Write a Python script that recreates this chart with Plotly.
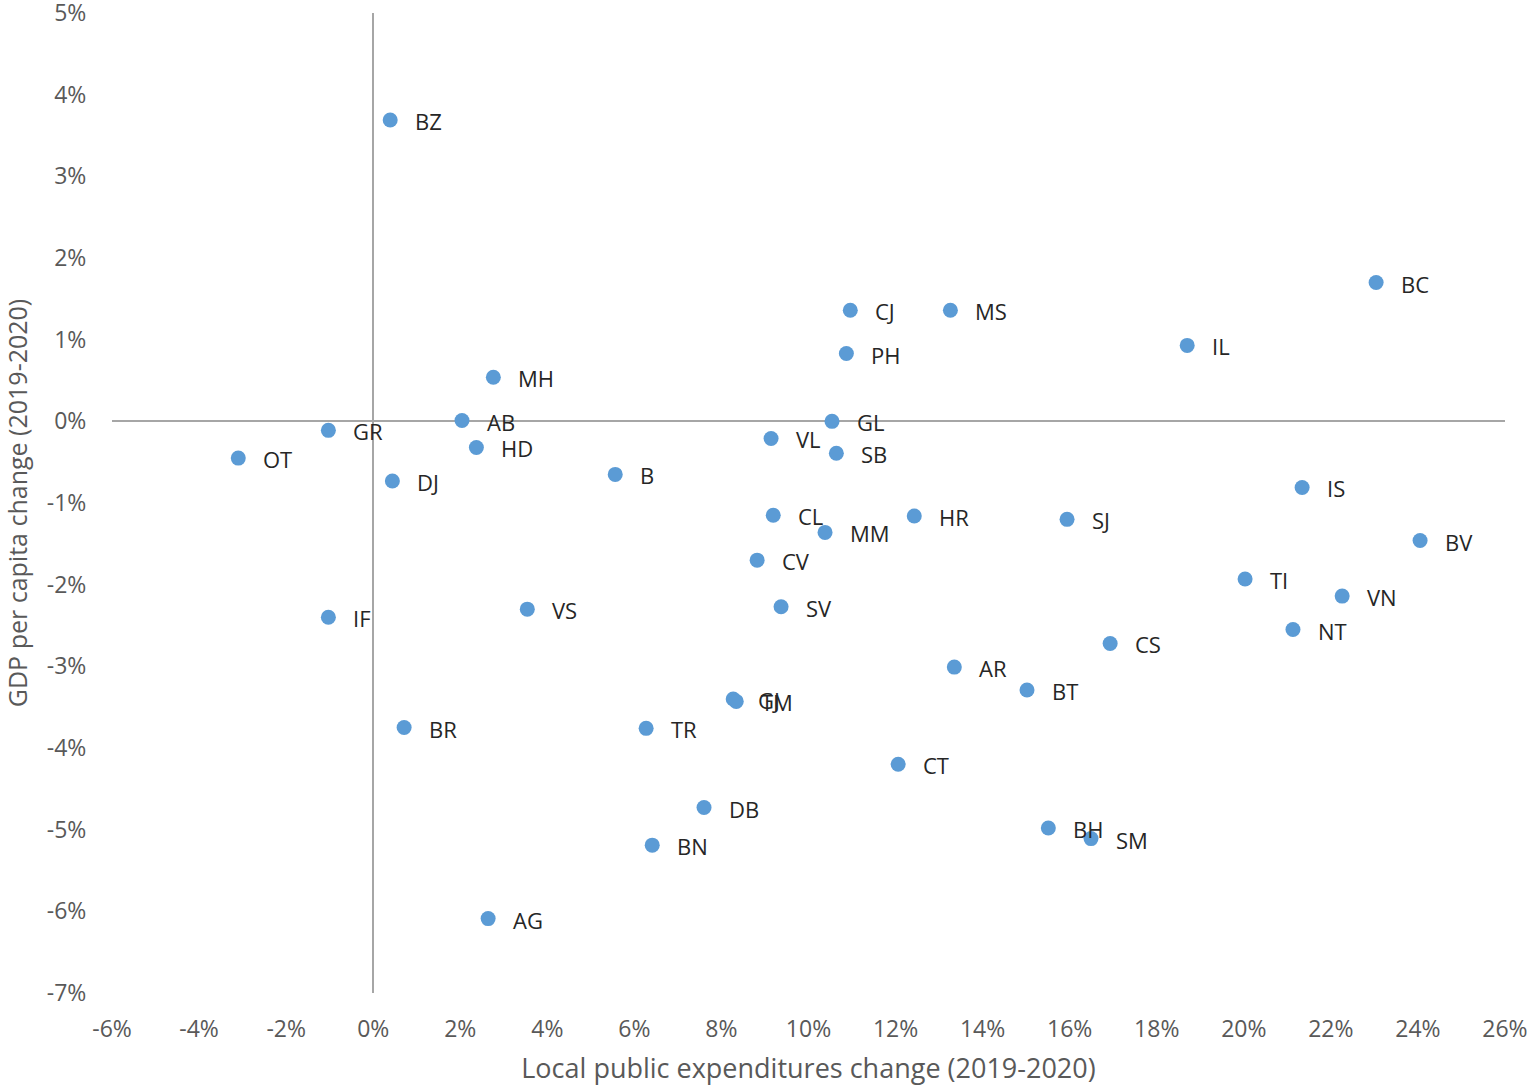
import plotly.graph_objects as go

# region codes and their changes (in %)
regions = ["BZ", "BC", "CJ", "MS", "IL", "PH", "MH", "AB", "GL", "GR",
           "VL", "HD", "SB", "OT", "B", "DJ", "IS", "CL", "HR", "SJ",
           "MM", "BV", "CV", "TI", "VN", "SV", "VS", "IF", "NT", "CS",
           "AR", "BT", "GJ", "TM", "BR", "TR", "CT", "DB", "BH", "SM",
           "BN", "AG"]
expenditure_change = [0.39, 23.04, 10.96, 13.26, 18.70, 10.87, 2.76, 2.04, 10.54, -1.03,
                      9.14, 2.37, 10.64, -3.10, 5.56, 0.44, 21.34, 9.19, 12.43, 15.94,
                      10.38, 24.05, 8.82, 20.03, 22.26, 9.37, 3.54, -1.03, 21.13, 16.93,
                      13.35, 15.02, 8.27, 8.34, 0.71, 6.27, 12.06, 7.60, 15.51, 16.49,
                      6.41, 2.64]
gdp_change = [3.69, 1.70, 1.36, 1.36, 0.93, 0.83, 0.54, 0.01, 0.00, -0.11,
              -0.21, -0.32, -0.39, -0.45, -0.65, -0.73, -0.81, -1.15, -1.16, -1.20,
              -1.36, -1.46, -1.70, -1.93, -2.14, -2.27, -2.30, -2.40, -2.55, -2.72,
              -3.01, -3.29, -3.40, -3.43, -3.75, -3.76, -4.20, -4.73, -4.98, -5.11,
              -5.19, -6.09]

x_ticks = list(range(-6, 27, 2))
y_ticks = list(range(-7, 6, 1))

fig = go.Figure()
fig.add_trace(go.Scatter(
    x=expenditure_change, y=gdp_change, mode="markers",
    marker=dict(size=15, color="#5b9bd5"),
    showlegend=False, cliponaxis=False,
))

for name, xv, yv in zip(regions, expenditure_change, gdp_change):
    fig.add_annotation(x=xv, y=yv, text=name, showarrow=False,
                       xanchor="left", yanchor="middle", xshift=23, yshift=-1,
                       font=dict(size=22, color="#262626", family="Open Sans"))

axis_font = dict(size=23, color="#595959", family="Open Sans")
fig.update_xaxes(
    range=[-6.001, 26.001], tickvals=x_ticks, ticktext=[f"{v}%" for v in x_ticks],
    showgrid=False, zeroline=True, zerolinecolor="#a6a6a6", zerolinewidth=2,
    showline=False, ticks="outside", ticklen=15, tickcolor="rgba(0,0,0,0)",
    tickfont=axis_font, automargin=False, ticklabeloverflow="allow",
    title=dict(text="Local public expenditures change (2019-2020)",
               font=dict(size=27, color="#595959", family="Open Sans"), standoff=16),
)
fig.update_yaxes(
    range=[-7.001, 5.001], tickvals=y_ticks, ticktext=[f"{v}%" for v in y_ticks],
    showgrid=False, zeroline=True, zerolinecolor="#a6a6a6", zerolinewidth=2,
    showline=False, ticks="outside", ticklen=20, tickcolor="rgba(0,0,0,0)",
    tickfont=axis_font, automargin=False, ticklabeloverflow="allow",
    title=dict(text="GDP per capita change (2019-2020)",
               font=dict(size=25, color="#595959", family="Open Sans"), standoff=29),
)
fig.update_layout(
    width=1532, height=1087,
    margin=dict(l=112, r=27, t=13, b=94),
    plot_bgcolor="white", paper_bgcolor="white",
)

# page body has a default 8px margin; remove it so the figure fills the window
fig.write_html("out.html", config={"displayModeBar": False},
               post_script="document.body.style.margin='0px';")
